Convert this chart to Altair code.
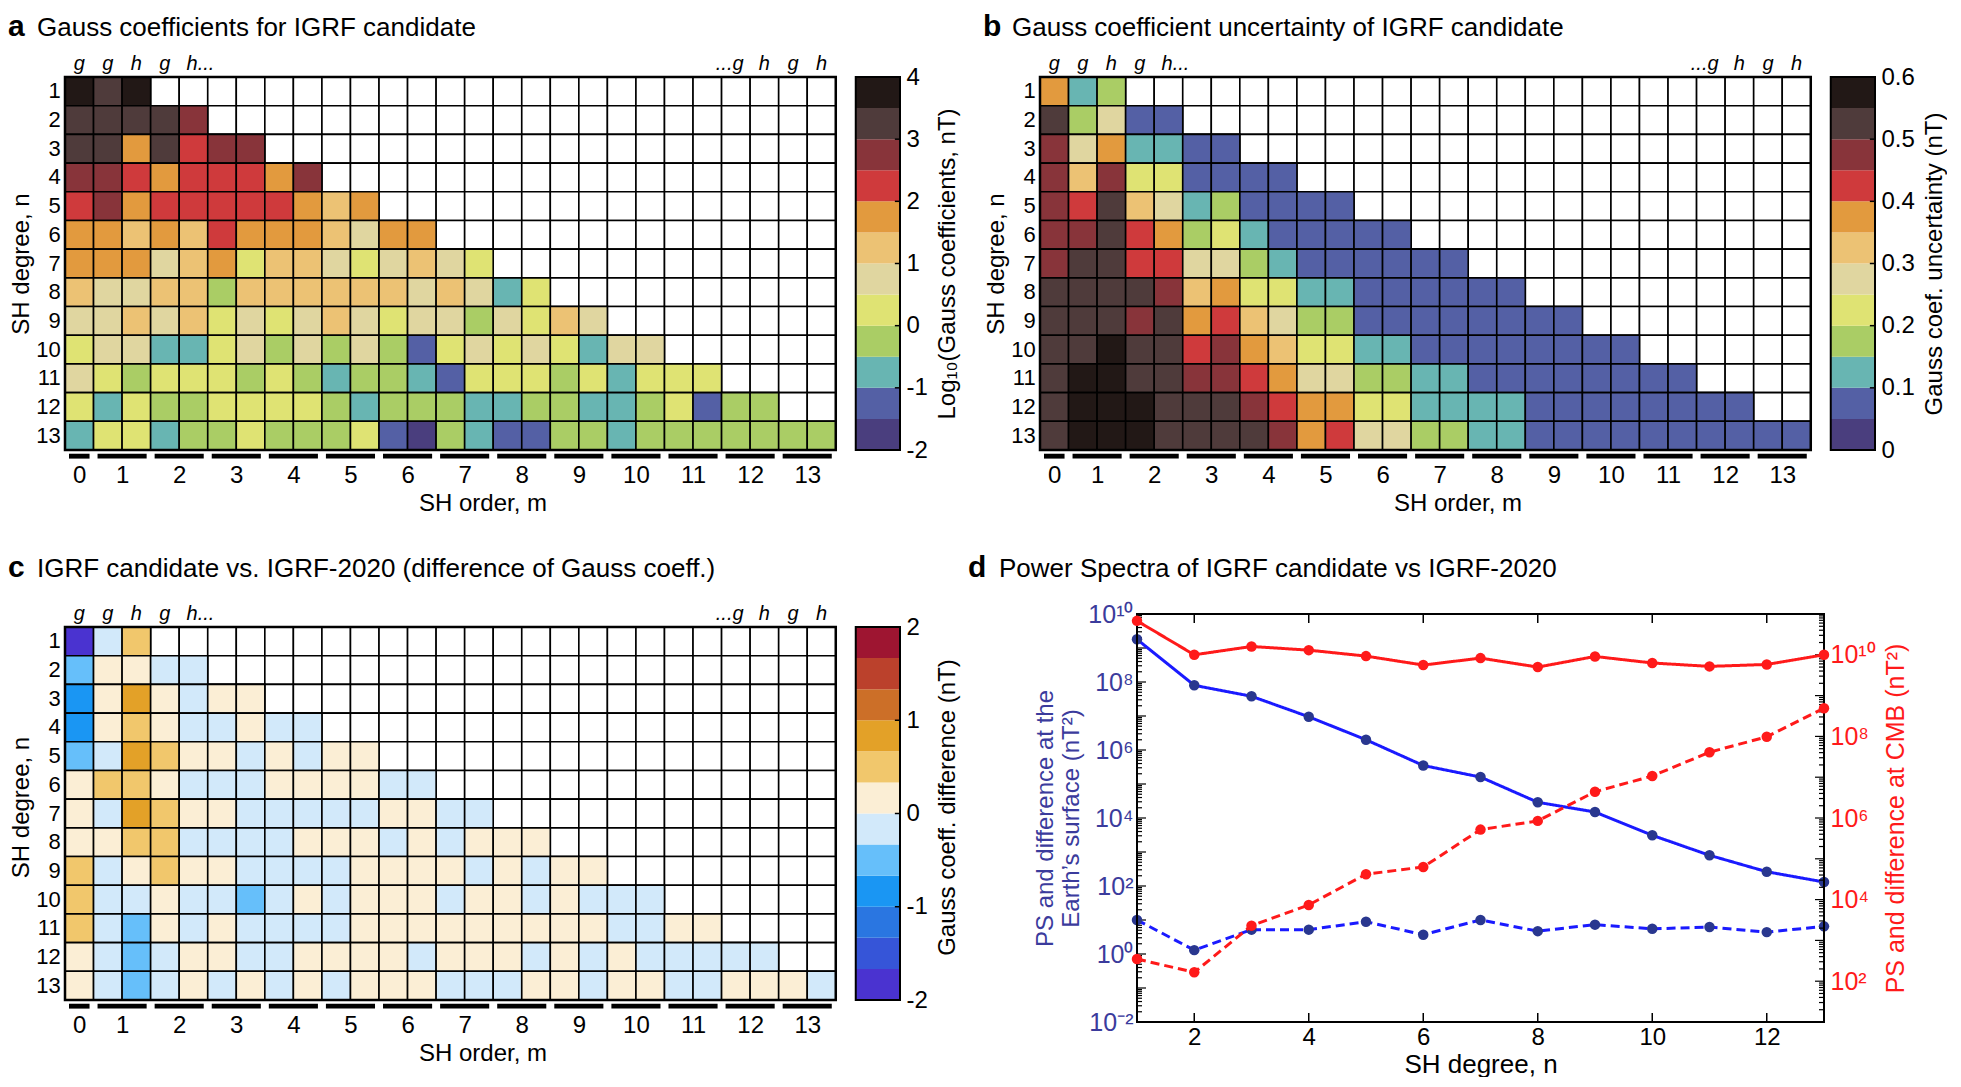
import altair as alt
import pandas as pd

FONT = "Liberation Sans"

# ---------------- data: panel a  (log10 |Gauss coefficient|, nT) ----------------
# rows n = 1..13 ; columns g_n^0, g_n^1, h_n^1, g_n^2, h_n^2, ...
coef_rows = [
    [3.8, 3.3, 3.8],
    [3.3, 3.3, 3.3, 3.3, 2.8],
    [3.3, 3.3, 1.8, 3.3, 2.3, 2.8, 2.8],
    [2.8, 2.8, 2.3, 1.8, 2.3, 2.3, 2.3, 1.8, 2.8],
    [2.3, 2.8, 1.8, 2.3, 2.3, 2.3, 2.3, 2.3, 1.8, 1.3, 1.8],
    [1.8, 1.8, 1.3, 1.8, 1.3, 2.3, 1.8, 1.8, 1.8, 1.3, 0.8, 1.8, 1.8],
    [1.8, 1.8, 1.8, 0.8, 1.3, 1.8, 0.3, 1.3, 1.3, 0.8, 0.3, 0.8, 1.3, 0.8, 0.3],
    [1.3, 0.8, 0.8, 1.3, 1.3, -0.3, 1.3, 1.3, 1.3, 1.3, 1.3, 1.3, 0.8, 1.3, 0.8, -0.8, 0.3],
    [0.8, 0.8, 1.3, 0.8, 1.3, 0.3, 0.8, 0.3, 0.8, 1.3, 0.8, 0.3, 0.8, 0.8, -0.3, 0.8, 0.3, 1.3, 0.8],
    [0.3, 0.8, 0.8, -0.8, -0.8, 0.3, 0.8, -0.3, 0.8, -0.3, 0.8, -0.3, -1.3, 0.3, 0.8, 0.3, 0.8, 0.3, -0.8, 0.8, 0.8],
    [0.8, 0.3, -0.3, 0.3, 0.3, 0.3, -0.3, 0.3, -0.3, -0.8, -0.3, -0.3, -0.8, -1.3, 0.3, 0.3, 0.3, -0.3, 0.3, -0.8, 0.3, 0.3, 0.3],
    [0.3, -0.8, 0.3, -0.3, -0.3, 0.3, 0.3, 0.3, 0.3, -0.3, -0.8, -0.3, -0.3, -0.3, -0.8, -0.8, -0.3, -0.3, -0.8, -0.8, -0.3, 0.3, -1.3, -0.3, -0.3],
    [-0.8, 0.3, 0.3, -0.8, -0.3, -0.3, 0.3, -0.3, -0.3, -0.3, 0.3, -1.3, -1.8, -0.3, -0.8, -1.3, -1.3, -0.3, -0.3, -0.8, -0.3, -0.3, -0.3, -0.3, -0.3, -0.3, -0.3],
]

# ---------------- data: panel b  (uncertainty, nT) ----------------
unc_rows = [
    [0.38, 0.13, 0.18],
    [0.53, 0.18, 0.28, 0.08, 0.08],
    [0.48, 0.28, 0.38, 0.13, 0.13, 0.08, 0.08],
    [0.48, 0.33, 0.48, 0.23, 0.23, 0.08, 0.08, 0.08, 0.08],
    [0.48, 0.43, 0.53, 0.33, 0.28, 0.13, 0.18, 0.08, 0.08, 0.08, 0.08],
    [0.48, 0.48, 0.53, 0.43, 0.38, 0.18, 0.23, 0.13, 0.08, 0.08, 0.08, 0.08, 0.08],
    [0.48, 0.53, 0.53, 0.43, 0.43, 0.28, 0.28, 0.18, 0.13, 0.08, 0.08, 0.08, 0.08, 0.08, 0.08],
    [0.53, 0.53, 0.53, 0.53, 0.48, 0.33, 0.38, 0.23, 0.23, 0.13, 0.13, 0.08, 0.08, 0.08, 0.08, 0.08, 0.08],
    [0.53, 0.53, 0.53, 0.48, 0.53, 0.38, 0.43, 0.33, 0.28, 0.18, 0.18, 0.08, 0.08, 0.08, 0.08, 0.08, 0.08, 0.08, 0.08],
    [0.53, 0.53, 0.58, 0.53, 0.53, 0.43, 0.48, 0.38, 0.33, 0.23, 0.23, 0.13, 0.13, 0.08, 0.08, 0.08, 0.08, 0.08, 0.08, 0.08, 0.08],
    [0.53, 0.58, 0.58, 0.53, 0.53, 0.48, 0.48, 0.43, 0.38, 0.28, 0.28, 0.18, 0.18, 0.13, 0.13, 0.08, 0.08, 0.08, 0.08, 0.08, 0.08, 0.08, 0.08],
    [0.53, 0.58, 0.58, 0.58, 0.53, 0.53, 0.53, 0.48, 0.43, 0.38, 0.38, 0.23, 0.23, 0.13, 0.13, 0.13, 0.13, 0.08, 0.08, 0.08, 0.08, 0.08, 0.08, 0.08, 0.08],
    [0.53, 0.58, 0.58, 0.58, 0.53, 0.53, 0.53, 0.53, 0.48, 0.38, 0.43, 0.28, 0.28, 0.18, 0.18, 0.13, 0.13, 0.08, 0.08, 0.08, 0.08, 0.08, 0.08, 0.08, 0.08, 0.08, 0.08],
]

# ---------------- data: panel c  (difference, nT) ----------------
diff_rows = [
    [-1.85, -0.15, 0.5],
    [-0.5, 0.15, 0.15, -0.15, -0.15],
    [-0.85, 0.15, 0.85, 0.15, -0.15, 0.15, 0.15],
    [-0.85, 0.15, 0.5, 0.15, -0.15, -0.15, 0.15, -0.15, -0.15],
    [-0.5, -0.15, 0.85, 0.5, 0.15, 0.15, -0.15, 0.15, -0.15, 0.15, 0.15],
    [0.15, 0.5, 0.5, 0.15, -0.15, -0.15, -0.15, 0.15, 0.15, 0.15, 0.15, -0.15, -0.15],
    [0.15, -0.15, 0.85, 0.5, 0.15, 0.15, -0.15, -0.15, -0.15, -0.15, -0.15, 0.15, 0.15, -0.15, -0.15],
    [0.15, 0.15, 0.5, 0.5, -0.15, -0.15, -0.15, -0.15, 0.15, 0.15, 0.15, -0.15, 0.15, -0.15, 0.15, 0.15, 0.15],
    [0.5, -0.15, 0.15, 0.5, 0.15, 0.15, -0.15, -0.15, -0.15, -0.15, 0.15, 0.15, 0.15, 0.15, -0.15, 0.15, -0.15, 0.15, 0.15],
    [0.5, -0.15, -0.15, 0.15, -0.15, -0.15, -0.5, -0.15, 0.15, -0.15, 0.15, 0.15, 0.15, -0.15, 0.15, 0.15, -0.15, 0.15, -0.15, -0.15, -0.15],
    [0.5, -0.15, -0.5, 0.15, -0.15, 0.15, -0.15, -0.15, -0.15, -0.15, 0.15, 0.15, 0.15, 0.15, 0.15, 0.15, 0.15, 0.15, 0.15, -0.15, -0.15, 0.15, 0.15],
    [0.15, -0.15, -0.5, -0.15, 0.15, 0.15, -0.15, -0.15, 0.15, 0.15, 0.15, 0.15, -0.15, 0.15, 0.15, 0.15, -0.15, 0.15, -0.15, 0.15, -0.15, -0.15, -0.15, -0.15, -0.15],
    [0.15, -0.15, -0.5, -0.15, 0.15, -0.15, 0.15, -0.15, 0.15, -0.15, 0.15, 0.15, 0.15, -0.15, -0.15, -0.15, 0.15, 0.15, -0.15, 0.15, 0.15, -0.15, -0.15, 0.15, 0.15, 0.15, -0.15],
]

# ---------------- data: panel d  (power spectra) ----------------
sh_degree = [1, 2, 3, 4, 5, 6, 7, 8, 9, 10, 11, 12, 13]
ps_surface = [1.8e9, 8e7, 3.8e7, 9.5e6, 2.0e6, 3.5e5, 1.6e5, 2.9e4, 1.5e4, 3.1e3, 800, 263, 131]
diff_surface = [10, 1.3, 5.2, 5.2, 8.9, 3.7, 10, 4.7, 7.3, 5.5, 6.2, 4.4, 6.5]
ps_cmb = [6.8e10, 1.0e10, 1.6e10, 1.3e10, 9.3e9, 5.6e9, 8.3e9, 5.0e9, 9.1e9, 6.3e9, 5.2e9, 5.8e9, 1.0e10]
diff_cmb = [350, 165, 2.3e3, 7.4e3, 4.2e4, 6.3e4, 5.2e5, 8.5e5, 4.4e6, 1.07e7, 4.1e7, 9.8e7, 4.9e8]

# ---------------- colour maps / colour-bar edges ----------------
cmap_ab = ["#4a3e7e", "#5460a5", "#68b5b2", "#aacd65", "#dfe373", "#e0d6a0",
           "#ecc274", "#e29a3e", "#cf3a3c", "#88343a", "#4f3b3b", "#221816"]
cmap_c = ["#4a33d0", "#3655d8", "#2a76e1", "#1a96f3", "#66bffa", "#d2e9fa",
          "#fbeed5", "#f1c76c", "#e3a128", "#cc6f28", "#bb412c", "#9e1531"]
edges_a = [-2, -1.5, -1, -0.5, 0, 0.5, 1, 1.5, 2, 2.5, 3, 3.5, 4]
edges_b = [0, 0.05, 0.1, 0.15, 0.2, 0.25, 0.3, 0.35, 0.4, 0.45, 0.5, 0.55, 0.6]
edges_c = [-2, -5 / 3, -4 / 3, -1, -2 / 3, -1 / 3, 0, 1 / 3, 2 / 3, 1, 4 / 3, 5 / 3, 2]
ticks_a = [-2, -1, 0, 1, 2, 3, 4]
ticks_b = [0, 0.1, 0.2, 0.3, 0.4, 0.5, 0.6]
ticks_c = [-2, -1, 0, 1, 2]

# row / column header labels
sh_degrees_rows = list(range(1, 14))
top_center_cols = [0, 1, 2, 3, 24, 25, 26]
top_center_txt = ["g", "g", "h", "g", "h", "g", "h"]
sh_orders = list(range(14))
m_label_pos = [0.5] + [2 * m for m in range(1, 14)]

N_ROWS, N_COLS = 13, 27
XMAX = 29.25
CB_X0, CB_X1 = 27.7, 29.25
PW, PH = 835, 373
ROW_H = PH / N_ROWS


def heat_panel(rows, edges, colors, cb_ticks, cb_title, letter, title, title_y, pad_px=0):
    recs = []
    for n in range(1, N_ROWS + 1):
        vals = rows[n - 1]
        for c in range(N_COLS):
            recs.append({"x0": c, "x1": c + 1, "y0": n - 1, "y1": n,
                         "v": vals[c] if c < len(vals) else None})
    cells = pd.DataFrame(recs)
    pad_rows = pad_px / ROW_H
    xs = alt.Scale(domain=[0, XMAX], nice=False, zero=False)
    ys = alt.Scale(domain=[-pad_rows, N_ROWS], reverse=True, nice=False, zero=False)

    xaxis = alt.Axis(values=m_label_pos,
                     labelExpr="datum.value < 1 ? '0' : toString(datum.value / 2)",
                     title="SH order, m", ticks=False, domain=False, grid=False, labelOverlap=False,
                     labelFontSize=24, labelPadding=13, titleFontSize=24, titlePadding=4)
    yaxis = alt.Axis(values=[6.5], labels=False,
                     title="SH degree, n", ticks=False, domain=False, grid=False,
                     titleFontSize=24, titlePadding=32)

    blank = alt.Chart(cells).mark_rect(fill="white", stroke="black", strokeWidth=1.6).encode(
        x=alt.X("x0:Q", scale=xs, axis=xaxis), x2="x1:Q",
        y=alt.Y("y0:Q", scale=ys, axis=yaxis), y2="y1:Q")
    filled = alt.Chart(cells).transform_filter("isValid(datum.v)").mark_rect(
        stroke="black", strokeWidth=1.6).encode(
        x=alt.X("x0:Q", scale=xs), x2="x1:Q",
        y=alt.Y("y0:Q", scale=ys), y2="y1:Q",
        color=alt.Color("v:Q", scale=alt.Scale(type="threshold", domain=edges[1:-1], range=colors),
                        legend=None))
    frame = alt.Chart(pd.DataFrame({"x0": [0], "x1": [N_COLS], "y0": [0], "y1": [N_ROWS]})).mark_rect(
        fillOpacity=0, stroke="black", strokeWidth=2.5).encode(
        x=alt.X("x0:Q", scale=xs), x2="x1:Q",
        y=alt.Y("y0:Q", scale=ys), y2="y1:Q")
    bars = alt.Chart(pd.DataFrame({"m": sh_orders})).transform_calculate(
        x0="datum.m == 0 ? 0.14 : 2 * datum.m - 1 + 0.14",
        x1="datum.m == 0 ? 0.86 : 2 * datum.m + 1 - 0.14",
        y0="13.13", y1="13.3").mark_rect(color="black").encode(
        x=alt.X("x0:Q", scale=xs), x2="x1:Q",
        y=alt.Y("y0:Q", scale=ys), y2="y1:Q")
    rl = alt.Chart(pd.DataFrame({"n": sh_degrees_rows})).transform_calculate(
        x0="-0.15", y0="datum.n - 0.5", t="toString(datum.n)").mark_text(
        fontSize=22, baseline="middle", align="right").encode(
        x=alt.X("x0:Q", scale=xs), y=alt.Y("y0:Q", scale=ys), text="t:N")
    tl = alt.Chart(pd.DataFrame({"c": top_center_cols, "t": top_center_txt})).transform_calculate(
        x0="datum.c + 0.5", y0="-0.25").mark_text(
        fontStyle="italic", fontSize=20, baseline="alphabetic", align="center").encode(
        x=alt.X("x0:Q", scale=xs), y=alt.Y("y0:Q", scale=ys), text="t:N")
    hl = alt.Chart(pd.DataFrame({"c": [4], "t": ["h..."]})).transform_calculate(
        x0="datum.c + 0.26", y0="-0.25").mark_text(
        fontStyle="italic", fontSize=20, baseline="alphabetic", align="left").encode(
        x=alt.X("x0:Q", scale=xs), y=alt.Y("y0:Q", scale=ys), text="t:N")
    hr = alt.Chart(pd.DataFrame({"c": [23], "t": ["...g"]})).transform_calculate(
        x0="datum.c + 0.77", y0="-0.25").mark_text(
        fontStyle="italic", fontSize=20, baseline="alphabetic", align="right").encode(
        x=alt.X("x0:Q", scale=xs), y=alt.Y("y0:Q", scale=ys), text="t:N")
    let = alt.Chart(pd.DataFrame({"t": [letter]})).mark_text(
        fontSize=30, fontWeight="bold", align="left", baseline="alphabetic").encode(
        x=alt.value(-57), y=alt.value(title_y), text="t:N")
    tit = alt.Chart(pd.DataFrame({"t": [title]})).mark_text(
        fontSize=26, align="left", baseline="alphabetic").encode(
        x=alt.value(-28), y=alt.value(title_y), text="t:N")

    cbdf = pd.DataFrame({"lo": edges[:-1], "hi": edges[1:]})
    span = edges[-1] - edges[0]
    cys = alt.Scale(domain=[edges[0], edges[-1] + span * pad_px / PH], nice=False, zero=False)
    cb = alt.Chart(cbdf).transform_calculate(
        v="(datum.lo + datum.hi) / 2", x0=str(CB_X0), x1=str(CB_X1)).mark_rect().encode(
        x=alt.X("x0:Q", scale=xs), x2="x1:Q",
        y=alt.Y("lo:Q", scale=cys, axis=alt.Axis(
            orient="right", values=cb_ticks, labelExpr="toString(datum.value)", labelOverlap=False,
            title=cb_title, titleAngle=270, titleBaseline="top", ticks=False, domain=False, grid=False,
            labelFontSize=24, labelPadding=6, titleFontSize=24, titlePadding=8)),
        y2="hi:Q",
        color=alt.Color("v:Q", scale=alt.Scale(type="threshold", domain=edges[1:-1], range=colors),
                        legend=None))
    cbf = alt.Chart(pd.DataFrame({"lo": [edges[0]], "hi": [edges[-1]]})).transform_calculate(
        x0=str(CB_X0), x1=str(CB_X1)).mark_rect(
        fillOpacity=0, stroke="black", strokeWidth=2).encode(
        x=alt.X("x0:Q", scale=xs), x2="x1:Q",
        y=alt.Y("lo:Q", scale=cys), y2="hi:Q")
    cbt = alt.Chart(pd.DataFrame({"lo": cb_ticks})).transform_calculate(
        x0=str(CB_X1 - 0.18), x1=str(CB_X1)).mark_rule(color="black", strokeWidth=1.5).encode(
        x=alt.X("x0:Q", scale=xs), x2="x1:Q", y=alt.Y("lo:Q", scale=cys))

    inner = alt.layer(blank, filled, frame, bars, rl, tl, hl, hr, let, tit)
    return alt.layer(inner, alt.layer(cb, cbf, cbt)).resolve_scale(
        y="independent", color="independent").properties(width=PW, height=round(PH + pad_px))


pa = heat_panel(coef_rows, edges_a, cmap_ab, ticks_a, "Log\u2081\u2080(Gauss coefficients, nT)",
                "a", "Gauss coefficients for IGRF candidate", -41)
pb = heat_panel(unc_rows, edges_b, cmap_ab, ticks_b, "Gauss coef. uncertainty (nT)",
                "b", "Gauss coefficient uncertainty of IGRF candidate", -41)
pc = heat_panel(diff_rows, edges_c, cmap_c, ticks_c, "Gauss coeff. difference (nT)",
                "c", "IGRF candidate vs. IGRF-2020 (difference of Gauss coeff.)", -37, pad_px=13)

# ---------------- panel d ----------------
BLUE = "#1a1aff"
NAVY = "#29378f"
BLUE_TXT = "#3b3b9c"
RED = "#ff1a1a"
DW, DH = 687, 408
X_UNIT = DW / 12.0          # pixels per SH degree
L_DEC = DH / 12.0           # pixels per decade, left axis

blue_df = pd.DataFrame({"n": sh_degree * 2, "val": ps_surface + diff_surface,
                        "kind": ["PS"] * 13 + ["diff"] * 13})
red_df = pd.DataFrame({"n": sh_degree * 2, "val": ps_cmb + diff_cmb,
                       "kind": ["PS"] * 13 + ["diff"] * 13})
xd = alt.Scale(domain=[1, 13], nice=False, zero=False)
yl = alt.Scale(type="log", domain=[1e-2, 1e10], nice=False)
yr = alt.Scale(type="log", domain=[1e1, 1e11], nice=False)
dash = alt.StrokeDash("kind:N", scale=alt.Scale(domain=["PS", "diff"], range=[[1, 0], [9, 5]]),
                      legend=None)

xaxis_d = alt.Axis(values=[2, 4, 6, 8, 10, 12], labelExpr="toString(datum.value)",
                   title="SH degree, n", ticks=False, domain=False, labelOverlap=False,
                   grid=False, labelFontSize=24, labelPadding=3, titleFontSize=26, titlePadding=2)
yaxis_l = alt.Axis(orient="left", values=[1e-2, 1, 1e2, 1e4, 1e6, 1e8, 1e10], labelOverlap=False,
                   labelExpr="['10\u207b\u00b2','10\u2070','10\u00b2','10\u2074','10\u2076','10\u2078','10\u00b9\u2070'][round(log(datum.value)/LN10/2)+1]",
                   title=["PS and difference at the", "Earth\u2019s surface (nT\u00b2)"],
                   ticks=False, domain=False, grid=False, labelColor=BLUE_TXT, titleColor=BLUE_TXT,
                   labelFontSize=25, labelPadding=4, titleFontSize=24, titlePadding=4)
yaxis_r = alt.Axis(orient="right", values=[1e2, 1e4, 1e6, 1e8, 1e10], labelOverlap=False,
                   labelExpr="['10\u00b2','10\u2074','10\u2076','10\u2078','10\u00b9\u2070'][round(log(datum.value)/LN10/2)-1]",
                   title="PS and difference at CMB (nT\u00b2)", titleAngle=270, titleBaseline="top",
                   ticks=False, domain=False, grid=False, labelColor=RED, titleColor=RED,
                   labelFontSize=25, labelPadding=6, titleFontSize=25, titlePadding=8)

# inward tick marks of the frame (log minor ticks on both y axes)
left_ticks = pd.DataFrame({"e": [e for e in range(-2, 10) for k in range(1, 10)],
                           "k": [k for e in range(-2, 10) for k in range(1, 10)]})
right_ticks = pd.DataFrame({"e": [e for e in range(1, 11) for k in range(1, 10)],
                            "k": [k for e in range(1, 11) for k in range(1, 10)]})
x_tick_pos = [2, 4, 6, 8, 10, 12]

blue_line = alt.Chart(blue_df).mark_line(color=BLUE, strokeWidth=3).encode(
    x=alt.X("n:Q", scale=xd, axis=xaxis_d), y=alt.Y("val:Q", scale=yl, axis=yaxis_l),
    strokeDash=dash, detail="kind:N")
blue_pts = alt.Chart(blue_df).mark_circle(size=110, color=NAVY, opacity=1).encode(
    x=alt.X("n:Q", scale=xd), y=alt.Y("val:Q", scale=yl))
frame_d = alt.Chart(pd.DataFrame({"n": [1], "n2": [13], "val": [1e-2], "val2": [1e10]})).mark_rect(
    fillOpacity=0, stroke="black", strokeWidth=2).encode(
    x=alt.X("n:Q", scale=xd), x2="n2:Q",
    y=alt.Y("val:Q", scale=yl), y2="val2:Q")
lt = alt.Chart(left_ticks).transform_calculate(
    val="datum.k * pow(10, datum.e)", n="1",
    n2="1 + (datum.k == 1 ? 9 : 5) / %f" % X_UNIT).mark_rule(color="black", strokeWidth=1.2).encode(
    x=alt.X("n:Q", scale=xd), x2="n2:Q", y=alt.Y("val:Q", scale=yl))
xt = alt.Chart(pd.DataFrame({"n": x_tick_pos * 2, "side": [0] * 6 + [1] * 6})).transform_calculate(
    val="datum.side == 0 ? 0.01 : 1e10",
    val2="datum.side == 0 ? 0.01 * pow(10, 9 / %f) : 1e10 / pow(10, 9 / %f)" % (L_DEC, L_DEC)
).mark_rule(color="black", strokeWidth=1.5).encode(
    x=alt.X("n:Q", scale=xd), y=alt.Y("val:Q", scale=yl), y2="val2:Q")
let_d = alt.Chart(pd.DataFrame({"t": ["d"]})).mark_text(
    fontSize=30, fontWeight="bold", align="left", baseline="alphabetic").encode(
    x=alt.value(-169), y=alt.value(-37), text="t:N")
tit_d = alt.Chart(pd.DataFrame({"t": ["Power Spectra of IGRF candidate vs IGRF-2020"]})).mark_text(
    fontSize=26, align="left", baseline="alphabetic").encode(
    x=alt.value(-138), y=alt.value(-37), text="t:N")
red_line = alt.Chart(red_df).mark_line(color=RED, strokeWidth=3).encode(
    x=alt.X("n:Q", scale=xd), y=alt.Y("val:Q", scale=yr, axis=yaxis_r),
    strokeDash=dash, detail="kind:N")
red_pts = alt.Chart(red_df).mark_circle(size=110, color=RED, opacity=1).encode(
    x=alt.X("n:Q", scale=xd), y=alt.Y("val:Q", scale=yr))
rt = alt.Chart(right_ticks).transform_calculate(
    val="datum.k * pow(10, datum.e)", n2="13",
    n="13 - (datum.k == 1 ? 9 : 5) / %f" % X_UNIT).mark_rule(color="black", strokeWidth=1.2).encode(
    x=alt.X("n:Q", scale=xd), x2="n2:Q", y=alt.Y("val:Q", scale=yr))

pdd = alt.layer(alt.layer(lt, xt, blue_line, blue_pts, frame_d, let_d, tit_d),
                alt.layer(rt, red_line, red_pts)).resolve_scale(y="independent").properties(
    width=DW, height=DH)

row1 = alt.hconcat(pa, pb, spacing=23)
row2 = alt.hconcat(pc, pdd, spacing=8)
chart = alt.vconcat(row1, row2, spacing=38).properties(
    padding={"left": 0, "top": 4, "right": 0, "bottom": 0}
).configure_view(stroke=None).configure_axis(
    labelFont=FONT, titleFont=FONT, labelColor="black", titleColor="black",
    titleFontWeight="normal"
).configure_text(font=FONT, color="black")

chart.save("out.html", embed_options={"renderer": "svg", "actions": False})
